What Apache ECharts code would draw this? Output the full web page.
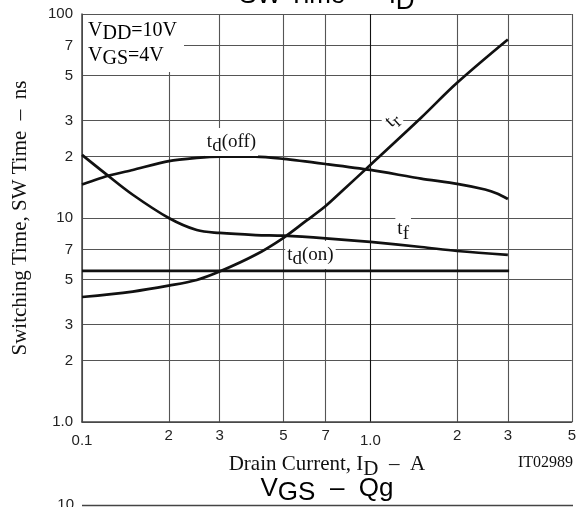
<!DOCTYPE html>
<html><head><meta charset="utf-8">
<script src="https://cdn.jsdelivr.net/npm/echarts@6/dist/echarts.min.js"></script>
<style>html,body{margin:0;padding:0;background:#fff}#c{width:579px;height:507px}</style>
</head><body><div id="c"></div>
<script>
// Axis ticks and labels
const xTicks = [0.1, 0.2, 0.3, 0.5, 0.7, 1, 2, 3, 5];
const xTickLabels = ['0.1', '2', '3', '5', '7', '1.0', '2', '3', '5'];
const yTicks = [1, 2, 3, 5, 7, 10, 20, 30, 50, 70, 100];
const yTickLabels = ['1.0', '2', '3', '5', '7', '10', '2', '3', '5', '7', '100'];

// Series (Drain current A, time ns)
const trX = [0.1, 0.15, 0.2, 0.25, 0.3, 0.4, 0.5, 0.6, 0.7, 0.8, 1.0, 1.5, 2, 3];
const trY = [4.1, 4.36, 4.66, 4.97, 5.46, 6.6, 8.0, 9.7, 11.45, 13.6, 18.2, 31, 46, 75];

const tfX = [0.1, 0.12, 0.15, 0.2, 0.25, 0.3, 0.4, 0.5, 0.7, 1.0, 1.5, 2, 3];
const tfY = [20.4, 16.6, 13.0, 10.0, 8.73, 8.45, 8.25, 8.19, 7.95, 7.63, 7.21, 6.89, 6.59];

const tdoffX = [0.1, 0.125, 0.15, 0.2, 0.25, 0.3, 0.4, 0.5, 0.7, 1.0, 1.5, 2, 2.5, 2.75, 3];
const tdoffY = [14.6, 16.2, 17.2, 19.0, 19.7, 20.0, 20.0, 19.5, 18.4, 17.2, 15.6, 14.7, 13.8, 13.2, 12.4];

const tdonX = [0.1, 3.03];
const tdonY = [5.5, 5.5];

// Curve label anchors (data coordinates)
const labelTdoff = [0.33, 23.6];
const labelTr = [1.19, 30.2];
const labelTf = [1.30, 8.83];
const labelTdon = [0.62, 6.59];

const SERIF = 'Liberation Serif';
const SANS = 'Liberation Sans';

function pairs(xs, ys) { return xs.map((x, i) => [x, ys[i]]); }
function lookup(ticks, labels, v) {
  for (let i = 0; i < ticks.length; i++) if (Math.abs(ticks[i] - v) / ticks[i] < 1e-4) return labels[i];
  return '';
}

const gridColorsX = xTicks.map(v => v === 1 ? '#111' : '#555');
const gridColorsY = yTicks.map(v => '#555');

const serifRich = {
  n: { fontFamily: SERIF, fontSize: 19, color: '#111' },
  s: { fontFamily: SERIF, fontSize: 19, color: '#111', padding: [9, 0, 0, 0] }
};

function mp(coord, text, rotate) {
  return {
    symbol: 'circle', symbolSize: 1, silent: true,
    itemStyle: { color: 'rgba(0,0,0,0)' },
    label: {
      show: true, position: 'inside', formatter: text, rotate: rotate || 0,
      backgroundColor: '#fff', padding: [0, 2, 0, 2], rich: serifRich
    },
    data: [{ coord: coord }]
  };
}

const lineStyle = { color: '#111', width: 2.7 };

const chart = echarts.init(document.getElementById('c'), null, { renderer: 'canvas' });
chart.setOption({
  animation: false,
  backgroundColor: '#fff',
  grid: { left: 82, top: 14, right: 6, bottom: 85, containLabel: false },
  xAxis: {
    type: 'log', logBase: 10, min: 0.1, max: 5,
    name: '{n|Drain Current, I}{s|D}{n|  –  A}',
    nameLocation: 'middle', nameGap: 27,
    nameTextStyle: { rich: { n: { fontFamily: SERIF, fontSize: 21, color: '#111' }, s: { fontFamily: SERIF, fontSize: 21, color: '#111', padding: [10, 0, 0, 0] } } },
    axisLine: { show: true, lineStyle: { color: '#444', width: 1.5 } },
    axisTick: { show: false, customValues: xTicks },
    axisLabel: {
      customValues: xTicks, margin: 6,
      formatter: v => { const t = lookup(xTicks, xTickLabels, v); return (t === '0.1' || t === '1.0') ? '{d|' + t + '}' : '{r|' + t + '}'; },
      rich: {
        r: { fontFamily: SANS, fontSize: 15, color: '#222' },
        d: { fontFamily: SANS, fontSize: 15, color: '#222', padding: [5, 0, 0, 0] }
      }
    },
    splitLine: { show: true, lineStyle: { color: gridColorsX, width: 1.1 } }
  },
  yAxis: {
    type: 'log', logBase: 10, min: 1, max: 100,
    name: 'Switching Time, SW Time  –  ns',
    nameLocation: 'middle', nameGap: 51,
    nameTextStyle: { fontFamily: SERIF, fontSize: 21, color: '#111' },
    axisLine: { show: true, lineStyle: { color: '#444', width: 1.5 } },
    axisTick: { show: false, customValues: yTicks },
    axisLabel: {
      customValues: yTicks, margin: 9,
      fontFamily: SANS, fontSize: 15, color: '#222',
      formatter: v => lookup(yTicks, yTickLabels, v)
    },
    splitLine: { show: true, lineStyle: { color: gridColorsY, width: 1.1 } }
  },
  series: [
    { name: 'tr', type: 'line', data: pairs(trX, trY), smooth: 0.35, symbol: 'none', lineStyle,
      markPoint: mp(labelTr, '{n|t}{s|r}', 43) },
    { name: 'tf', type: 'line', data: pairs(tfX, tfY), smooth: 0.35, symbol: 'none', lineStyle,
      markPoint: mp(labelTf, '{n|t}{s|f}') },
    { name: 'td(off)', type: 'line', data: pairs(tdoffX, tdoffY), smooth: 0.25, symbol: 'none', lineStyle,
      markPoint: mp(labelTdoff, '{n|t}{s|d}{n|(off)}') },
    { name: 'td(on)', type: 'line', data: pairs(tdonX, tdonY), symbol: 'none', lineStyle,
      markPoint: mp(labelTdon, '{n|t}{s|d}{n|(on)}') }
  ],
  graphic: [
    { type: 'rect', shape: { x: 83, y: 15, width: 101, height: 57 }, style: { fill: '#fff' }, z: 50 },
    { type: 'text', x: 88, y: 18, z: 51,
      style: { text: '{n|V}{s|DD}{n|=10V}\n{n|V}{s|GS}{n|=4V}', rich: {
        n: { fontFamily: SERIF, fontSize: 20, color: '#111', lineHeight: 25 },
        s: { fontFamily: SERIF, fontSize: 20, color: '#111', lineHeight: 25, padding: [6, 0, 0, 0] } } } },
    { type: 'text', x: 327, y: -23, z: 51,
      style: { text: '{n|SW Time  –  I}{s|D}', align: 'center', rich: {
        n: { fontFamily: SANS, fontSize: 26, color: '#111' },
        s: { fontFamily: SANS, fontSize: 26, color: '#111', padding: [12, 0, 0, 0] } } } },
    { type: 'text', x: 327, y: 472, z: 51,
      style: { text: '{n|V}{s|GS}{n|  –  Qg}', align: 'center', rich: {
        n: { fontFamily: SANS, fontSize: 26, color: '#111' },
        s: { fontFamily: SANS, fontSize: 26, color: '#111', padding: [8, 0, 0, 0] } } } },
    { type: 'text', x: 573, y: 455, z: 51,
      style: { text: 'IT02989', align: 'right', fontFamily: SERIF, fontSize: 16, fill: '#111' } },
    { type: 'line', shape: { x1: 82, y1: 505.5, x2: 573, y2: 505.5 }, style: { stroke: '#444', lineWidth: 1.5 } },
    { type: 'text', x: 74, y: 497, z: 51,
      style: { text: '10', align: 'right', fontFamily: SANS, fontSize: 15, fill: '#222' } }
  ]
});
</script></body></html>
